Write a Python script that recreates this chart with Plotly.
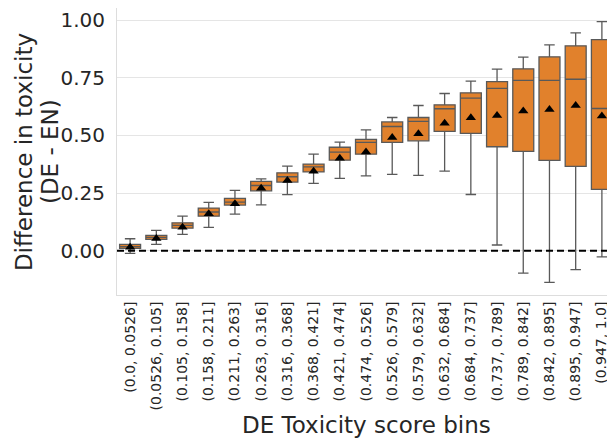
import plotly.graph_objects as go

bins = ["(0.0, 0.0526]", "(0.0526, 0.105]", "(0.105, 0.158]", "(0.158, 0.211]",
        "(0.211, 0.263]", "(0.263, 0.316]", "(0.316, 0.368]", "(0.368, 0.421]",
        "(0.421, 0.474]", "(0.474, 0.526]", "(0.526, 0.579]", "(0.579, 0.632]",
        "(0.632, 0.684]", "(0.684, 0.737]", "(0.737, 0.789]", "(0.789, 0.842]",
        "(0.842, 0.895]", "(0.895, 0.947]", "(0.947, 1.0]"]

lower = [-0.011, 0.028, 0.071, 0.101, 0.159, 0.199, 0.243, 0.292, 0.314, 0.325,
         0.331, 0.327, 0.345, 0.244, 0.025, -0.097, -0.137, -0.082, -0.027]
q1 = [0.010, 0.049, 0.098, 0.150, 0.198, 0.260, 0.298, 0.342, 0.393, 0.419,
      0.470, 0.477, 0.518, 0.509, 0.451, 0.431, 0.392, 0.366, 0.266]
median = [0.018, 0.058, 0.110, 0.168, 0.211, 0.283, 0.321, 0.364, 0.428, 0.470,
          0.539, 0.561, 0.616, 0.662, 0.704, 0.739, 0.739, 0.744, 0.617]
q3 = [0.028, 0.067, 0.121, 0.185, 0.227, 0.301, 0.338, 0.376, 0.449, 0.483,
      0.559, 0.578, 0.633, 0.685, 0.734, 0.789, 0.841, 0.889, 0.916]
upper = [0.052, 0.088, 0.150, 0.210, 0.262, 0.312, 0.367, 0.419, 0.471, 0.524,
         0.578, 0.630, 0.682, 0.736, 0.788, 0.840, 0.893, 0.945, 0.994]
mean = [0.015, 0.053, 0.102, 0.160, 0.204, 0.271, 0.305, 0.345, 0.401, 0.428,
        0.491, 0.508, 0.553, 0.577, 0.587, 0.606, 0.613, 0.630, 0.584]

font = "DejaVu Sans"
txt = "#262626"
fig = go.Figure()
fig.add_trace(go.Box(
    x=bins, q1=q1, median=median, q3=q3, lowerfence=lower, upperfence=upper,
    fillcolor="#e1812c", line=dict(color="#595959", width=1.3),
    width=0.8, whiskerwidth=0.5, boxpoints=False, showlegend=False,
))
fig.add_trace(go.Scatter(
    x=bins, y=mean, mode="markers",
    marker=dict(symbol="triangle-up", size=9, color="black"),
    showlegend=False,
))
fig.add_hline(y=0, line=dict(color="black", width=2, dash="7px,4px"))

fig.update_layout(
    width=607, height=432,
    margin=dict(l=109, r=0, t=0, b=145),
    paper_bgcolor="white", plot_bgcolor="white",
    font=dict(family=font, color=txt),
    xaxis=dict(
        type="category", range=[-0.5, 18.5], tickangle=-90, automargin=False,
        tickfont=dict(size=14, color=txt),
        showgrid=False, showline=True, linecolor="#dddddd", linewidth=1, mirror=True,
        ticks="", ticklabelstandoff=0,
    ),
    yaxis=dict(
        range=[-0.192, 1.053], tickvals=[0, 0.25, 0.5, 0.75, 1.0], automargin=False,
        ticktext=["0.00", "0.25", "0.50", "0.75", "1.00"],
        tickfont=dict(size=20, color=txt),
        showgrid=True, gridcolor="#e5e5e5", gridwidth=1, zeroline=False,
        showline=True, linecolor="#dddddd", linewidth=1, mirror=True,
        ticks="", ticklabelstandoff=7,
    ),
    annotations=[
        dict(text="DE Toxicity score bins", xref="paper", yref="paper",
             x=0.502, y=-0.453, xanchor="center", yanchor="middle",
             showarrow=False, font=dict(size=23, color=txt)),
        dict(text="Difference in toxicity", xref="paper", yref="paper",
             x=-0.1867, y=0.498, xanchor="center", yanchor="middle", textangle=-90,
             showarrow=False, font=dict(size=23, color=txt)),
        dict(text="(DE - EN)", xref="paper", yref="paper",
             x=-0.1345, y=0.498, xanchor="center", yanchor="middle", textangle=-90,
             showarrow=False, font=dict(size=23, color=txt)),
    ],
)
fig.write_html("out.html")
